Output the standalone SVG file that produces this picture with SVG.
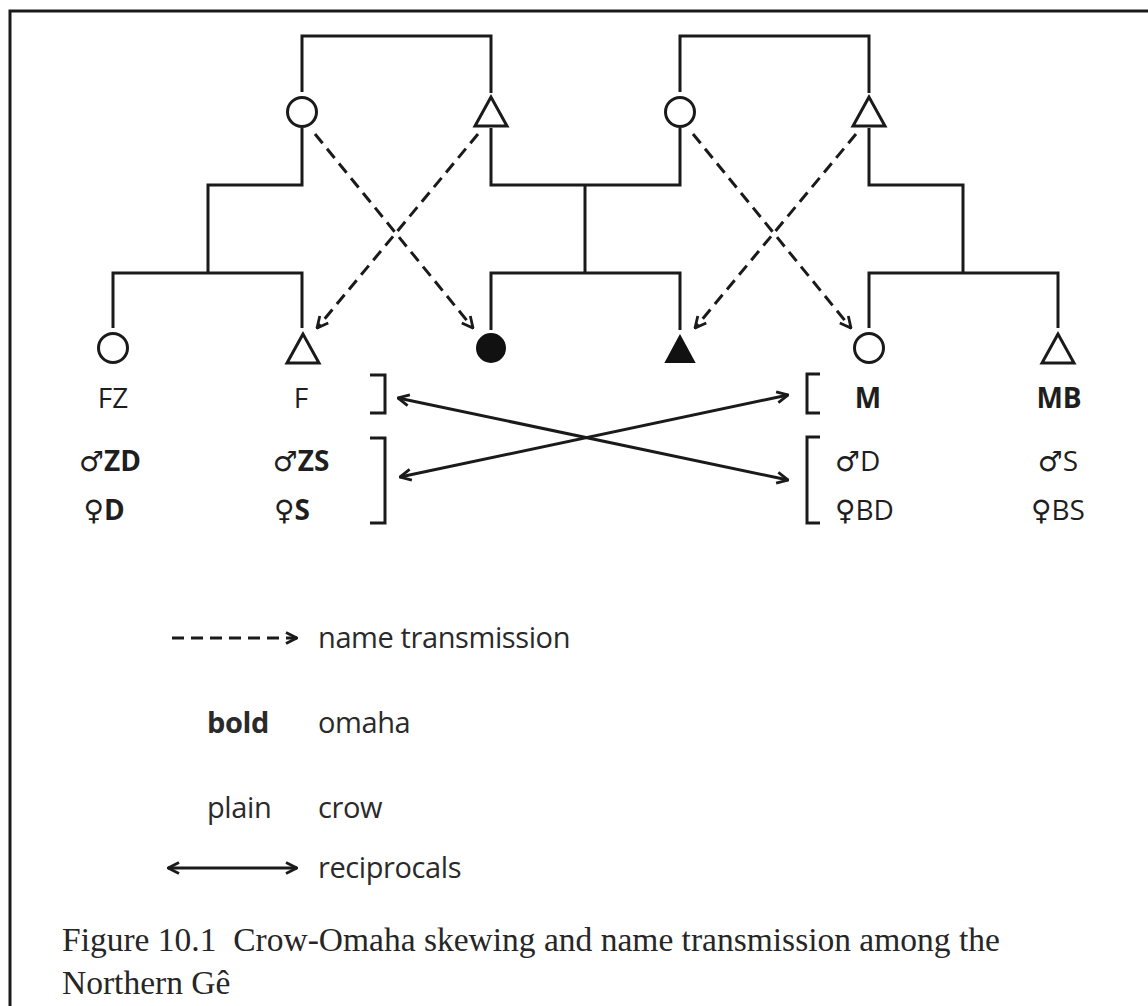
<svg xmlns="http://www.w3.org/2000/svg" width="1148" height="1006" viewBox="0 0 1148 1006">
<defs>
<marker id="ah" viewBox="0 0 14 14" refX="13" refY="7" markerWidth="14" markerHeight="14" markerUnits="userSpaceOnUse" orient="auto-start-reverse">
<path d="M2,1.5 L13,7 L2,12.5" fill="none" stroke="#1a1a1a" stroke-width="2.8" stroke-linejoin="miter"/>
</marker>
<style>
.ln{fill:none;stroke:#1a1a1a;stroke-width:3;stroke-linecap:butt;stroke-linejoin:miter}
.dash{fill:none;stroke:#1a1a1a;stroke-width:3;stroke-dasharray:12 7}
.sym{fill:#fff;stroke:#1a1a1a;stroke-width:3}
.fill{fill:#111;stroke:#111;stroke-width:2}
.lbl{font-family:"Open Sans","DejaVu Sans",sans-serif;font-size:28px;fill:#1e1e1e;text-anchor:middle}
.b{font-weight:bold}
.lg{font-family:"Open Sans","DejaVu Sans",sans-serif;font-size:29px;fill:#2a2a2a;letter-spacing:-0.4px}
.cap{font-family:"Liberation Serif","DejaVu Serif",serif;font-size:33.5px;fill:#262626}
</style>
</defs>
<rect width="1148" height="1006" fill="#fff"/>
<g id="frame"><path class="ln" d="M10,1006 V11 H1148"/></g>

<g id="connectors">
<path class="ln" d="M302,92 V36 H491 V93"/>
<path class="ln" d="M680,92 V36 H869 V93"/>
<path class="ln" d="M302,128 V185 H208 V273"/>
<path class="ln" d="M113,328 V273 H302 V328"/>
<path class="ln" d="M491,128 V185 H680 V128"/>
<path class="ln" d="M585,185 V273"/>
<path class="ln" d="M491,330 V273 H680 V330"/>
<path class="ln" d="M869,128 V185 H963 V273"/>
<path class="ln" d="M869,328 V273 H1058 V328"/>
<line class="dash" x1="315" y1="134" x2="473" y2="328" marker-end="url(#ah)"/>
<line class="dash" x1="478" y1="134" x2="317" y2="328" marker-end="url(#ah)"/>
<line class="dash" x1="693" y1="134" x2="851" y2="328" marker-end="url(#ah)"/>
<line class="dash" x1="856" y1="134" x2="695" y2="328" marker-end="url(#ah)"/>
<line class="ln" x1="398" y1="398" x2="788" y2="480" marker-start="url(#ah)" marker-end="url(#ah)"/>
<line class="ln" x1="400" y1="477" x2="788" y2="395" marker-start="url(#ah)" marker-end="url(#ah)"/>
<path class="ln" d="M370,375 H385 V413 H370"/>
<path class="ln" d="M370,438 H385 V523 H370"/>
<path class="ln" d="M820,374 H807 V413 H820"/>
<path class="ln" d="M820,437 H807 V523 H820"/>
</g>

<g id="n-gm1"><circle class="sym" cx="302" cy="112" r="14.5"/></g>
<g id="n-gf1"><polygon class="sym" points="491,97 475,126 507,126"/></g>
<g id="n-gm2"><circle class="sym" cx="680" cy="112" r="14.5"/></g>
<g id="n-gf2"><polygon class="sym" points="869,97 853,126 885,126"/></g>

<g id="n-FZ"><circle class="sym" cx="113" cy="348" r="14.5"/><text class="lbl" x="113" y="408">FZ</text><text class="lbl b" x="110" y="471">♂ZD</text><text class="lbl b" x="104" y="520">♀D</text></g>
<g id="n-F"><polygon class="sym" points="303,334 287,363 319,363"/><text class="lbl" x="301" y="408">F</text><text class="lbl b" x="301" y="471">♂ZS</text><text class="lbl b" x="292" y="520">♀S</text></g>
<g id="n-ego-f"><circle class="fill" cx="491" cy="348" r="14"/></g>
<g id="n-ego-m"><polygon class="fill" points="680,336 666,362 694,362"/></g>
<g id="n-M"><circle class="sym" cx="869" cy="348" r="14.5"/><text class="lbl b" x="868" y="408">M</text><text class="lbl" x="835" y="471" style="text-anchor:start">♂D</text><text class="lbl" x="835" y="520" style="text-anchor:start">♀BD</text></g>
<g id="n-MB"><polygon class="sym" points="1058,334 1042,363 1074,363"/><text class="lbl b" x="1059" y="408">MB</text><text class="lbl" x="1058" y="471">♂S</text><text class="lbl" x="1058" y="520">♀BS</text></g>

<g id="legend">
<line class="dash" x1="172" y1="638" x2="297" y2="638" stroke-dasharray="13 8" marker-end="url(#ah)"/>
<text class="lg" x="318" y="648">name transmission</text>
<text class="lg b" x="207" y="733">bold</text>
<text class="lg" x="318" y="733">omaha</text>
<text class="lg" x="207" y="818">plain</text>
<text class="lg" x="318" y="818">crow</text>
<line class="ln" x1="168" y1="868" x2="297" y2="868" marker-start="url(#ah)" marker-end="url(#ah)"/>
<text class="lg" x="318" y="878">reciprocals</text>
</g>

<g id="caption">
<text class="cap" x="62" y="951" xml:space="preserve">Figure 10.1  Crow-Omaha skewing and name transmission among the</text>
<text class="cap" x="62" y="994">Northern Gê</text>
</g>
</svg>
